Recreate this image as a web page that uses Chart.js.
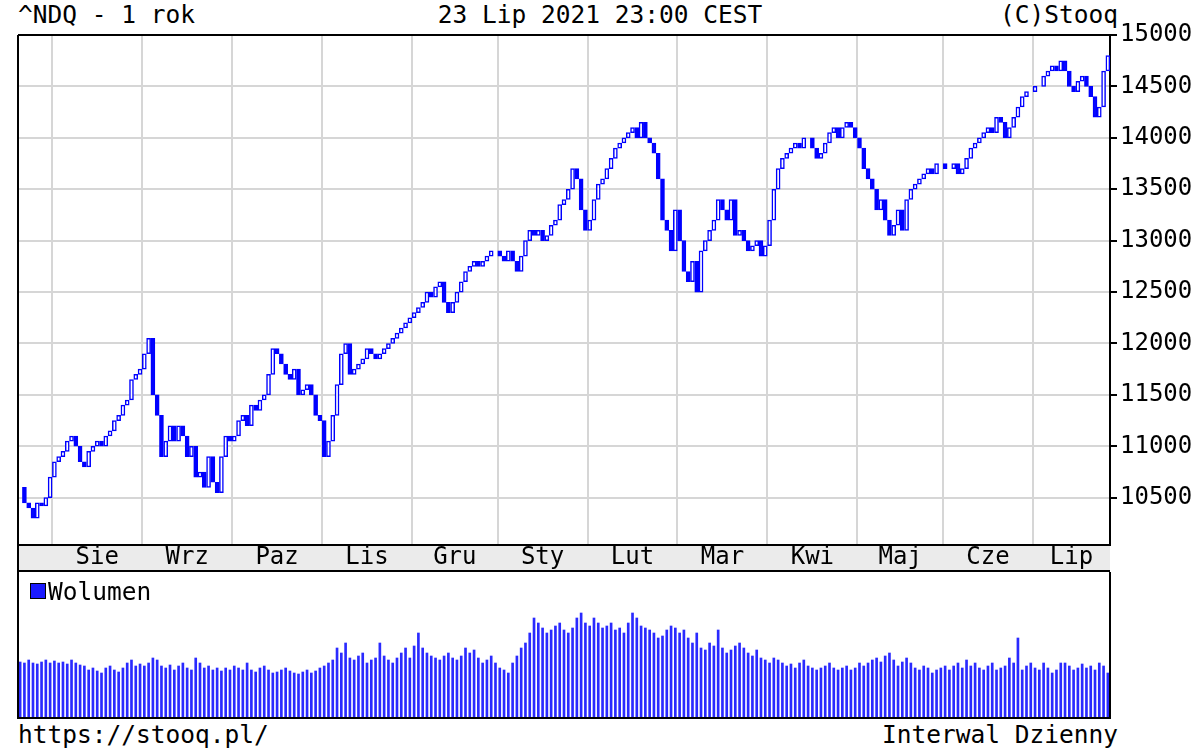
<!DOCTYPE html>
<html><head><meta charset="utf-8">
<script src="https://cdn.jsdelivr.net/npm/chart.js@4"></script>
<style>
body{margin:0;background:#fff;width:1200px;height:750px;position:relative;overflow:hidden;font-family:"DejaVu Sans Mono",monospace;}
.t{position:absolute;font-size:24.5px;color:#000;white-space:pre;line-height:1;}
canvas{position:absolute;left:0;}
</style></head><body>
<div class="t" style="left:18px;top:3px">^NDQ - 1 rok</div>
<div class="t" style="left:0;width:1200px;text-align:center;top:3px">23 Lip 2021 23:00 CEST</div>
<div class="t" style="right:82px;top:3px">(C)Stooq</div>
<div class="t" style="left:18px;top:723px">https://stooq.pl/</div>
<div class="t" style="right:82px;top:723px">Interwal Dzienny</div>
<div class="t" style="left:30px;top:580px;z-index:2"><span style="display:inline-block;width:14px;height:14px;background:#1a1aff;border:1px solid #000;vertical-align:1px;margin-right:2px"></span>Wolumen</div>
<canvas id="p" width="1200" height="572" style="top:0"></canvas>
<canvas id="v" width="1200" height="178" style="top:572px"></canvas>
<script>
const monthLabels=["Sie","Wrz","Paz","Lis","Gru","Sty","Lut","Mar","Kwi","Maj","Cze","Lip"];
const monthCounts=[8,21,21,21,21,20,21,21,21,21,20,21,18];
const closes=[
10600,10450,10400,10300,10450,10420,10500,10700,
10850,10900,10950,11050,11100,11000,10850,10800,10950,11000,11050,11000,11100,11150,11250,11300,11400,11450,11650,11700,11750,
11900,12050,11500,11300,10900,11050,11200,11050,11200,11100,10900,11000,10700,10750,10600,10900,10650,10550,10900,11100,11050,
11100,11250,11300,11200,11400,11350,11450,11500,11700,11950,11900,11800,11700,11650,11750,11500,11550,11600,11500,11300,11250,10900,
11050,11300,11600,11900,12000,11700,11750,11800,11850,11950,11900,11850,11900,11950,12000,12050,12100,12150,12200,12250,12300,
12350,12400,12500,12450,12550,12600,12400,12300,12400,12500,12600,12700,12750,12800,12750,12800,12850,12900,12900,12850,12800,12900,
12800,12700,12850,13000,13100,13050,13100,13000,13050,13150,13200,13350,13400,13500,13700,13600,13300,13100,13200,
13400,13550,13600,13700,13800,13900,13950,14000,14050,14100,14000,14150,14000,13950,13850,13600,13200,13100,12900,
13300,13000,12700,12600,12800,12500,12900,13000,13100,13200,13400,13300,13200,13400,13050,13100,13000,12900,12950,13000,12850,12950,13200,
13500,13700,13800,13850,13900,13950,13900,14000,14000,13900,13800,13850,13950,14050,14100,14000,14100,14150,14100,14000,13900,
13700,13600,13500,13300,13400,13200,13050,13150,13300,13100,13400,13500,13550,13600,13650,13700,13650,13750,13750,13700,
13700,13750,13650,13700,13800,13900,13950,14000,14050,14100,14050,14200,14150,14000,14100,14200,14300,14400,14450,14450,14500,14500,
14600,14650,14700,14650,14750,14650,14500,14450,14550,14600,14500,14400,14200,14300,14650,14800];
const volumes=[
56,55,58,55,54,56,58,55,
57,55,56,54,58,55,53,52,48,50,47,45,50,52,48,46,50,55,58,52,54,
52,55,60,58,52,50,53,48,52,55,50,48,60,55,50,52,48,50,47,50,48,
52,50,48,55,48,46,50,52,48,45,46,48,50,47,45,44,46,48,45,47,50,52,
55,58,70,65,75,60,58,62,65,55,58,60,75,62,58,55,60,65,70,60,72,
85,70,65,62,60,58,62,65,60,58,62,70,65,68,60,55,58,62,55,50,48,45,
55,62,70,75,85,100,95,90,85,88,92,95,88,85,90,100,105,95,92,
100,95,90,92,95,88,90,85,95,105,100,92,90,88,85,80,82,88,92,
90,85,88,80,75,85,70,68,75,72,88,70,65,68,72,75,70,65,62,68,60,58,55,
60,58,55,52,54,50,55,58,52,50,48,50,52,55,50,48,50,52,48,50,55,
52,55,58,60,56,62,65,58,52,56,60,55,50,48,52,50,45,48,50,52,
48,52,55,50,58,52,55,50,48,52,55,48,50,52,60,55,80,48,52,55,50,48,
55,50,45,48,55,55,52,48,50,54,50,52,48,55,52,45];
const yTicks=[10500,11000,11500,12000,12500,13000,13500,14000,14500,15000];

const labels=closes.map((_,i)=>i);
const monthStarts=[];{let s=0;monthCounts.forEach(c=>{monthStarts.push(s);s+=c;});}
const startSet=new Set(monthStarts.slice(1));
const candles=closes.map((c,i)=>[i?closes[i-1]:c,c]);
const BLUE='#0000ff';
const FONT={family:'"DejaVu Sans Mono", monospace',size:24};

const deco={id:'deco',
 beforeDraw(ch){const a=ch.chartArea,c=ch.ctx;c.save();c.fillStyle='#ebebeb';c.fillRect(a.left,a.bottom,a.right-a.left,26);c.restore();},
 afterDraw(ch){const a=ch.chartArea,c=ch.ctx,x=ch.scales.x;c.save();
  c.strokeStyle='#000';c.lineWidth=2;
  c.beginPath();c.moveTo(a.left,a.top);c.lineTo(a.right,a.top);
  c.moveTo(a.left,a.top);c.lineTo(a.left,ch.height);
  c.moveTo(a.left,a.bottom);c.lineTo(a.right,a.bottom);
  c.moveTo(a.left,ch.height-1);c.lineTo(a.right,ch.height-1);c.stroke();
  c.fillStyle='#000';c.font='24px "DejaVu Sans Mono", monospace';c.textAlign='center';c.textBaseline='middle';
  for(let m=1;m<monthCounts.length;m++){const s=monthStarts[m],e=s+monthCounts[m]-1;
   const px=(x.getPixelForValue(s)+x.getPixelForValue(e))/2;c.fillText(monthLabels[m-1],px,a.bottom+13);}
  c.restore();}};

new Chart(document.getElementById('p'),{type:'bar',
 data:{labels,datasets:[{data:candles,barThickness:4,borderWidth:1.5,borderSkipped:false,
  backgroundColor:ctx=>{const d=candles[ctx.dataIndex];return d[1]>=d[0]?'#fff':BLUE;},borderColor:BLUE}]},
 options:{responsive:false,animation:false,layout:{padding:{left:18,top:35,right:0,bottom:0}},
  plugins:{legend:{display:false},tooltip:{enabled:false}},
  scales:{
   x:{grid:{offset:true,color:c=>startSet.has(c.index)?'#d6d6d6':'rgba(0,0,0,0)',lineWidth:2,drawTicks:false},
      ticks:{display:false,autoSkip:false},border:{display:false},afterFit(s){s.height=27;}},
   y:{position:'right',min:10040,max:15000,
      afterBuildTicks(s){s.ticks=yTicks.map(v=>({value:v}));},
      grid:{color:'#d6d6d6',lineWidth:2,tickColor:'#000',tickLength:7},
      border:{color:'#000',width:2},
      ticks:{color:'#000',font:FONT,padding:3,callback:v=>String(v)},afterFit(s){s.width=90;}}}},
 plugins:[deco]});

const vdeco={id:'vdeco',afterDraw(ch){const a=ch.chartArea,c=ch.ctx;c.save();c.strokeStyle='#000';c.lineWidth=2;
 c.beginPath();c.moveTo(a.left,0);c.lineTo(a.left,a.bottom);c.lineTo(a.right,a.bottom);c.lineTo(a.right,0);c.stroke();c.restore();}};
new Chart(document.getElementById('v'),{type:'bar',
 data:{labels,datasets:[{data:volumes,backgroundColor:'#2a2aff',barThickness:2}]},
 options:{responsive:false,animation:false,layout:{padding:{left:18,right:90,top:0,bottom:32}},
  plugins:{legend:{display:false},tooltip:{enabled:false}},
  scales:{x:{display:false},y:{display:false,min:0,max:146}}},
 plugins:[vdeco]});
</script></body></html>
